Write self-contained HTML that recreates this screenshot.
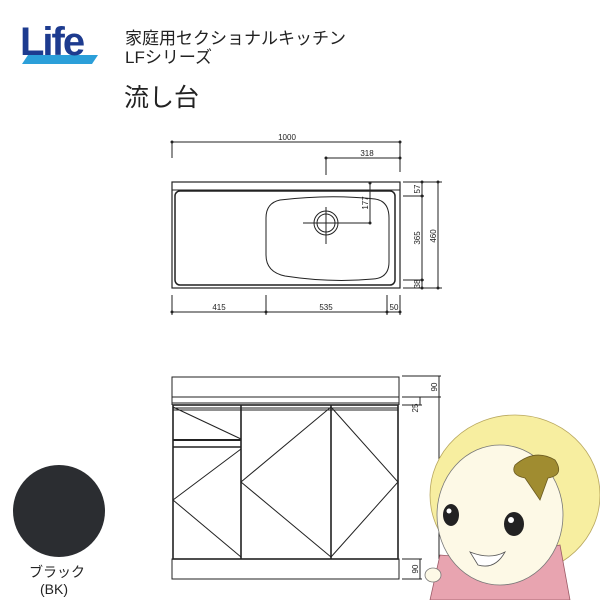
<!DOCTYPE html>
<html><head><meta charset="utf-8"><style>
body{margin:0;background:#fff;width:600px;height:600px;overflow:hidden;position:relative;font-family:"Liberation Sans","Noto Sans CJK JP",sans-serif;}
.t{position:absolute;color:#222;white-space:nowrap;}
</style></head><body>
<svg width="600" height="600" style="position:absolute;left:0;top:0" font-family="Liberation Sans, sans-serif">
<!-- logo -->
<polygon points="22,64 92,64 98,55 28,55" fill="#2b9fd9"/>
<text x="20" y="55" font-size="40" font-weight="bold" fill="#1d3b8f" letter-spacing="-2">Life</text>
<!-- plan view -->
<g stroke="#222" fill="none" stroke-width="1">
<line x1="172" y1="142" x2="400" y2="142"/><line x1="172" y1="142" x2="172" y2="158"/><line x1="400" y1="142" x2="400" y2="172"/>
<line x1="326" y1="158" x2="400" y2="158"/><line x1="326" y1="158" x2="326" y2="175"/>
<rect x="172" y="182" width="228" height="106" stroke-width="1.2"/>
<line x1="172" y1="190" x2="400" y2="190"/>
<rect x="175" y="191" width="220" height="94" rx="5" stroke-width="1.5"/>
<path d="M280,200 Q330,194 375,199 Q389,201 389,218 L389,262 Q389,278 373,279 Q330,283 285,276 Q266,272 266,255 L266,218 Q266,203 280,200Z" stroke-width="1"/>
<circle cx="326" cy="223" r="12"/><circle cx="326" cy="223" r="9"/>
<line x1="326" y1="207" x2="326" y2="244"/><line x1="303" y1="223" x2="370" y2="223"/>
<line x1="370" y1="183" x2="370" y2="223"/>
<line x1="172" y1="312" x2="400" y2="312"/>
<line x1="172" y1="295" x2="172" y2="315"/><line x1="266" y1="295" x2="266" y2="315"/><line x1="387" y1="295" x2="387" y2="315"/><line x1="400" y1="295" x2="400" y2="315"/>
<line x1="422" y1="182" x2="422" y2="288"/><line x1="438" y1="182" x2="438" y2="288"/>
<line x1="403" y1="182" x2="442" y2="182"/><line x1="403" y1="196" x2="424" y2="196"/><line x1="403" y1="280" x2="424" y2="280"/><line x1="403" y1="288" x2="442" y2="288"/>
</g>
<g fill="#222">
<circle cx="172" cy="142" r="1.5"/><circle cx="400" cy="142" r="1.5"/><circle cx="326" cy="158" r="1.5"/><circle cx="400" cy="158" r="1.5"/>
<circle cx="370" cy="183" r="1.5"/><circle cx="370" cy="223" r="1.5"/>
<circle cx="172" cy="312" r="1.5"/><circle cx="266" cy="312" r="1.5"/><circle cx="387" cy="312" r="1.5"/><circle cx="400" cy="312" r="1.5"/>
<circle cx="422" cy="182" r="1.5"/><circle cx="422" cy="196" r="1.5"/><circle cx="422" cy="280" r="1.5"/><circle cx="422" cy="288" r="1.5"/><circle cx="438" cy="182" r="1.5"/><circle cx="438" cy="288" r="1.5"/>
</g>
<g font-size="8" fill="#222" text-anchor="middle">
<text x="287" y="140">1000</text><text x="367" y="156">318</text>
<text x="219" y="310">415</text><text x="326" y="310">535</text><text x="394" y="310">50</text>
<text transform="translate(420,189) rotate(-90)">57</text>
<text transform="translate(420,238) rotate(-90)">365</text>
<text transform="translate(420,284) rotate(-90)">38</text>
<text transform="translate(436,236) rotate(-90)">460</text>
<text transform="translate(368,203) rotate(-90)">177</text>
<text transform="translate(437,387) rotate(-90)">90</text>
<text transform="translate(418,408) rotate(-90)">25</text>
<text transform="translate(418,569) rotate(-90)">90</text>
</g>
<!-- front view -->
<g stroke="#222" fill="none" stroke-width="1">
<rect x="172" y="377" width="227" height="20"/>
<line x1="172" y1="397" x2="172" y2="405"/><line x1="399" y1="397" x2="399" y2="405"/>
<line x1="172" y1="403" x2="399" y2="403"/>
<rect x="173" y="405" width="225" height="154" stroke-width="1.6"/>
<line x1="173" y1="408" x2="398" y2="408"/><line x1="173" y1="410" x2="398" y2="410"/>
<line x1="241" y1="405" x2="241" y2="559" stroke-width="1.6"/>
<line x1="331" y1="405" x2="331" y2="559" stroke-width="1.6"/>
<line x1="173" y1="440" x2="241" y2="440" stroke-width="2"/><line x1="173" y1="447" x2="241" y2="447" stroke-width="1.5"/>
<polyline points="173,407 241,439"/>
<polyline points="241,449 173,500 241,557"/>
<polyline points="331,407 241,482 331,557"/>
<polyline points="331,407 398,482 331,557"/>
<rect x="172" y="559" width="227" height="20"/>
<line x1="402" y1="376" x2="441" y2="376"/><line x1="402" y1="397" x2="441" y2="397"/><line x1="402" y1="405" x2="422" y2="405"/>
<line x1="439" y1="376" x2="439" y2="559"/><line x1="420" y1="397" x2="420" y2="405"/>
<line x1="402" y1="559" x2="422" y2="559"/><line x1="402" y1="579" x2="422" y2="579"/><line x1="420" y1="559" x2="420" y2="579"/>
</g>
<!-- girl -->
<ellipse cx="515" cy="495" rx="85" ry="80" fill="#f7eea0" stroke="#b9a860" stroke-width="0.8"/>
<path d="M430,600 L440,555 L500,560 L560,545 L570,600Z" fill="#e8a4b0" stroke="#9b5a66" stroke-width="0.8"/>
<ellipse cx="500" cy="515" rx="63" ry="70" fill="#fdf9e6" stroke="#777" stroke-width="0.8"/>
<ellipse cx="451" cy="515" rx="8" ry="11" fill="#222"/><ellipse cx="514" cy="524" rx="10" ry="12" fill="#222"/>
<circle cx="449" cy="511" r="2.5" fill="#fff"/><circle cx="511" cy="520" r="3" fill="#fff"/>
<path d="M470,552 Q490,560 505,552 Q495,570 478,565Z" fill="#fff" stroke="#555" stroke-width="0.8"/>
<path d="M515,465 Q535,448 555,460 Q565,475 548,478 L540,500 L525,478 Q510,475 515,465Z" fill="#a08c30" stroke="#6a5a20" stroke-width="0.8"/>
<ellipse cx="433" cy="575" rx="8" ry="7" fill="#fdf9e6" stroke="#777" stroke-width="0.8"/>
<!-- swatch -->
<circle cx="59" cy="511" r="46" fill="#2b2d31"/>
</svg>
<div class="t" style="left:125px;top:30px;font-size:17px;line-height:18px;">家庭用セクショナルキッチン</div>
<div class="t" style="left:125px;top:49px;font-size:17px;line-height:18px;">LFシリーズ</div>
<div class="t" style="left:124px;top:83px;font-size:25px;line-height:30px;">流し台</div>
<div class="t" style="left:29px;top:564px;font-size:14px;line-height:16px;">ブラック</div>
<div class="t" style="left:40px;top:581px;font-size:14px;line-height:16px;">(BK)</div>
</body></html>
